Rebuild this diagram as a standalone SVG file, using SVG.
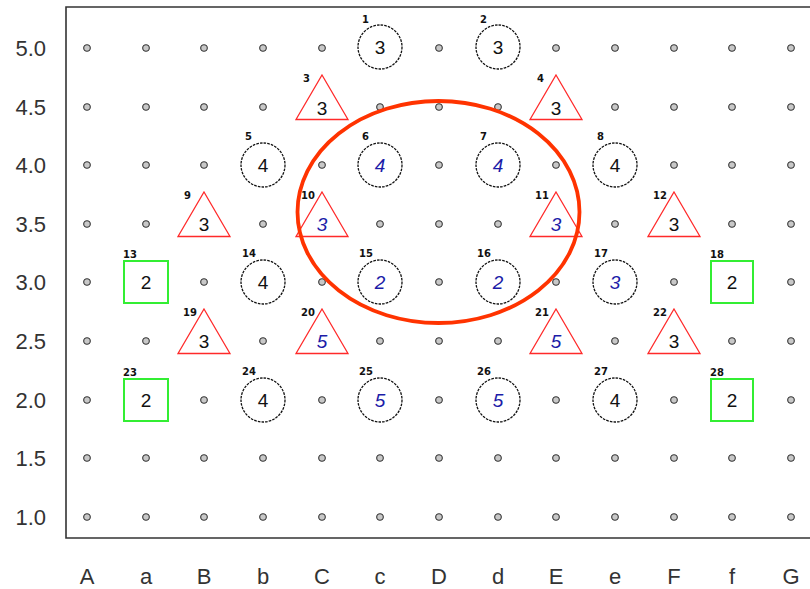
<svg xmlns="http://www.w3.org/2000/svg" xmlns:xlink="http://www.w3.org/1999/xlink" width="810" height="589" viewBox="0 0 810 589">
  <style>
    .axis { font-family: "Liberation Sans", Arial, sans-serif; font-size: 22px; fill: #333; }
    .ring { fill: #fff; stroke: #111; stroke-width: 1.3; stroke-dasharray: 2.6 1.1; }
    .tri { fill: #fff; stroke: #ff2a2a; stroke-width: 1.3; stroke-linejoin: miter; }
    .sq { fill: #fff; stroke: #33ee33; stroke-width: 2; }
    .v { font-family: "Liberation Sans", Arial, sans-serif; font-size: 19px; fill: #111; text-anchor: middle; }
    .vb { font-family: "Liberation Sans", Arial, sans-serif; font-size: 19px; fill: #1c1ca8; text-anchor: middle; font-style: italic; }
    .lbl { font-family: "DejaVu Sans", sans-serif; font-size: 10px; font-weight: bold; fill: #111; }
    .dot { fill: #c8c8c8; stroke: #333; stroke-width: 1.1; }
    .zone { fill: none; stroke: #ff3300; stroke-width: 3.8; }
  </style>
  <defs>
    <circle id="pt" class="dot" r="3.3"/>
    <polygon id="triShape" class="tri" points="0,-32 26,12.5 -26,12.5"/>
  </defs>

  <rect width="810" height="589" fill="#fff"/>

  <!-- plot frame -->
  <path d="M812,7 H66 V538 H812" fill="none" stroke="#333" stroke-width="1.6"/>

  <!-- axis labels -->
  <g id="y-axis" class="axis" text-anchor="end">
    <text x="46" y="56">5.0</text>
    <text x="46" y="115">4.5</text>
    <text x="46" y="173">4.0</text>
    <text x="46" y="232">3.5</text>
    <text x="46" y="290">3.0</text>
    <text x="46" y="349">2.5</text>
    <text x="46" y="408">2.0</text>
    <text x="46" y="466">1.5</text>
    <text x="46" y="525">1.0</text>
  </g>
  <g id="x-axis" class="axis" text-anchor="middle">
    <text x="87" y="584">A</text>
    <text x="146" y="584">a</text>
    <text x="204" y="584">B</text>
    <text x="263" y="584">b</text>
    <text x="322" y="584">C</text>
    <text x="380" y="584">c</text>
    <text x="439" y="584">D</text>
    <text x="498" y="584">d</text>
    <text x="556" y="584">E</text>
    <text x="615" y="584">e</text>
    <text x="674" y="584">F</text>
    <text x="732" y="584">f</text>
    <text x="791" y="584">G</text>
  </g>

  <!-- empty grid points -->
  <g id="grid-points">
    <!-- 5.0 -->
    <use xlink:href="#pt" x="87" y="48"/><use xlink:href="#pt" x="146" y="48"/><use xlink:href="#pt" x="204" y="48"/><use xlink:href="#pt" x="263" y="48"/><use xlink:href="#pt" x="322" y="48"/><use xlink:href="#pt" x="439" y="48"/><use xlink:href="#pt" x="556" y="48"/><use xlink:href="#pt" x="615" y="48"/><use xlink:href="#pt" x="674" y="48"/><use xlink:href="#pt" x="732" y="48"/><use xlink:href="#pt" x="791" y="48"/>
    <!-- 4.5 -->
    <use xlink:href="#pt" x="87" y="107"/><use xlink:href="#pt" x="146" y="107"/><use xlink:href="#pt" x="204" y="107"/><use xlink:href="#pt" x="263" y="107"/><use xlink:href="#pt" x="380" y="107"/><use xlink:href="#pt" x="439" y="107"/><use xlink:href="#pt" x="498" y="107"/><use xlink:href="#pt" x="615" y="107"/><use xlink:href="#pt" x="674" y="107"/><use xlink:href="#pt" x="732" y="107"/><use xlink:href="#pt" x="791" y="107"/>
    <!-- 4.0 -->
    <use xlink:href="#pt" x="87" y="165"/><use xlink:href="#pt" x="146" y="165"/><use xlink:href="#pt" x="204" y="165"/><use xlink:href="#pt" x="322" y="165"/><use xlink:href="#pt" x="439" y="165"/><use xlink:href="#pt" x="556" y="165"/><use xlink:href="#pt" x="674" y="165"/><use xlink:href="#pt" x="732" y="165"/><use xlink:href="#pt" x="791" y="165"/>
    <!-- 3.5 -->
    <use xlink:href="#pt" x="87" y="224"/><use xlink:href="#pt" x="146" y="224"/><use xlink:href="#pt" x="263" y="224"/><use xlink:href="#pt" x="380" y="224"/><use xlink:href="#pt" x="439" y="224"/><use xlink:href="#pt" x="498" y="224"/><use xlink:href="#pt" x="615" y="224"/><use xlink:href="#pt" x="732" y="224"/><use xlink:href="#pt" x="791" y="224"/>
    <!-- 3.0 -->
    <use xlink:href="#pt" x="87" y="282"/><use xlink:href="#pt" x="204" y="282"/><use xlink:href="#pt" x="322" y="282"/><use xlink:href="#pt" x="439" y="282"/><use xlink:href="#pt" x="556" y="282"/><use xlink:href="#pt" x="674" y="282"/><use xlink:href="#pt" x="791" y="282"/>
    <!-- 2.5 -->
    <use xlink:href="#pt" x="87" y="341"/><use xlink:href="#pt" x="146" y="341"/><use xlink:href="#pt" x="263" y="341"/><use xlink:href="#pt" x="380" y="341"/><use xlink:href="#pt" x="439" y="341"/><use xlink:href="#pt" x="498" y="341"/><use xlink:href="#pt" x="615" y="341"/><use xlink:href="#pt" x="732" y="341"/><use xlink:href="#pt" x="791" y="341"/>
    <!-- 2.0 -->
    <use xlink:href="#pt" x="87" y="400"/><use xlink:href="#pt" x="204" y="400"/><use xlink:href="#pt" x="322" y="400"/><use xlink:href="#pt" x="439" y="400"/><use xlink:href="#pt" x="556" y="400"/><use xlink:href="#pt" x="674" y="400"/><use xlink:href="#pt" x="791" y="400"/>
    <!-- 1.5 -->
    <use xlink:href="#pt" x="87" y="458"/><use xlink:href="#pt" x="146" y="458"/><use xlink:href="#pt" x="204" y="458"/><use xlink:href="#pt" x="263" y="458"/><use xlink:href="#pt" x="322" y="458"/><use xlink:href="#pt" x="380" y="458"/><use xlink:href="#pt" x="439" y="458"/><use xlink:href="#pt" x="498" y="458"/><use xlink:href="#pt" x="556" y="458"/><use xlink:href="#pt" x="615" y="458"/><use xlink:href="#pt" x="674" y="458"/><use xlink:href="#pt" x="732" y="458"/><use xlink:href="#pt" x="791" y="458"/>
    <!-- 1.0 -->
    <use xlink:href="#pt" x="87" y="517"/><use xlink:href="#pt" x="146" y="517"/><use xlink:href="#pt" x="204" y="517"/><use xlink:href="#pt" x="263" y="517"/><use xlink:href="#pt" x="322" y="517"/><use xlink:href="#pt" x="380" y="517"/><use xlink:href="#pt" x="439" y="517"/><use xlink:href="#pt" x="498" y="517"/><use xlink:href="#pt" x="556" y="517"/><use xlink:href="#pt" x="615" y="517"/><use xlink:href="#pt" x="674" y="517"/><use xlink:href="#pt" x="732" y="517"/><use xlink:href="#pt" x="791" y="517"/>
  </g>

  <!-- connectors (none between nodes) -->
  <g id="connectors"></g>

  <!-- nodes -->
  <g id="n1" transform="translate(380,47)"><circle class="ring" r="22"/><text class="v" y="7">3</text><text class="lbl" x="-18" y="-24">1</text></g>
  <g id="n2" transform="translate(498,47)"><circle class="ring" r="22"/><text class="v" y="7">3</text><text class="lbl" x="-18" y="-24">2</text></g>
  <g id="n3" transform="translate(322,107)"><use xlink:href="#triShape"/><text class="v" y="8">3</text><text class="lbl" x="-19" y="-25">3</text></g>
  <g id="n4" transform="translate(556,107)"><use xlink:href="#triShape"/><text class="v" y="8">3</text><text class="lbl" x="-19" y="-25">4</text></g>
  <g id="n5" transform="translate(263,165)"><circle class="ring" r="22"/><text class="v" y="7">4</text><text class="lbl" x="-18" y="-25">5</text></g>
  <g id="n6" transform="translate(380,165)"><circle class="ring" r="22"/><text class="vb" y="7">4</text><text class="lbl" x="-18" y="-25">6</text></g>
  <g id="n7" transform="translate(498,165)"><circle class="ring" r="22"/><text class="vb" y="7">4</text><text class="lbl" x="-18" y="-25">7</text></g>
  <g id="n8" transform="translate(615,165)"><circle class="ring" r="22"/><text class="v" y="7">4</text><text class="lbl" x="-18" y="-25">8</text></g>
  <g id="n9" transform="translate(204,224)"><use xlink:href="#triShape"/><text class="v" y="7">3</text><text class="lbl" x="-20" y="-25">9</text></g>
  <g id="n10" transform="translate(322,224)"><use xlink:href="#triShape"/><text class="vb" y="7">3</text><text class="lbl" x="-21" y="-25">10</text></g>
  <g id="n11" transform="translate(556,224)"><use xlink:href="#triShape"/><text class="vb" y="7">3</text><text class="lbl" x="-21" y="-25">11</text></g>
  <g id="n12" transform="translate(674,224)"><use xlink:href="#triShape"/><text class="v" y="7">3</text><text class="lbl" x="-21" y="-25">12</text></g>
  <g id="n13" transform="translate(146,282)"><rect class="sq" x="-22" y="-21" width="44" height="42"/><text class="v" y="7">2</text><text class="lbl" x="-23" y="-24">13</text></g>
  <g id="n14" transform="translate(263,282)"><circle class="ring" r="22"/><text class="v" y="7">4</text><text class="lbl" x="-21" y="-25">14</text></g>
  <g id="n15" transform="translate(380,282)"><circle class="ring" r="22"/><text class="vb" y="7">2</text><text class="lbl" x="-21" y="-25">15</text></g>
  <g id="n16" transform="translate(498,282)"><circle class="ring" r="22"/><text class="vb" y="7">2</text><text class="lbl" x="-21" y="-25">16</text></g>
  <g id="n17" transform="translate(615,282)"><circle class="ring" r="22"/><text class="vb" y="7">3</text><text class="lbl" x="-21" y="-25">17</text></g>
  <g id="n18" transform="translate(732,282)"><rect class="sq" x="-21" y="-21" width="42" height="42"/><text class="v" y="7">2</text><text class="lbl" x="-22" y="-24">18</text></g>
  <g id="n19" transform="translate(204,341)"><use xlink:href="#triShape"/><text class="v" y="7">3</text><text class="lbl" x="-21" y="-25">19</text></g>
  <g id="n20" transform="translate(322,341)"><use xlink:href="#triShape"/><text class="vb" y="7">5</text><text class="lbl" x="-21" y="-25">20</text></g>
  <g id="n21" transform="translate(556,341)"><use xlink:href="#triShape"/><text class="vb" y="7">5</text><text class="lbl" x="-21" y="-25">21</text></g>
  <g id="n22" transform="translate(674,341)"><use xlink:href="#triShape"/><text class="v" y="7">3</text><text class="lbl" x="-21" y="-25">22</text></g>
  <g id="n23" transform="translate(146,400)"><rect class="sq" x="-22" y="-21" width="44" height="42"/><text class="v" y="7">2</text><text class="lbl" x="-23" y="-24">23</text></g>
  <g id="n24" transform="translate(263,400)"><circle class="ring" r="22"/><text class="v" y="7">4</text><text class="lbl" x="-21" y="-25">24</text></g>
  <g id="n25" transform="translate(380,400)"><circle class="ring" r="22"/><text class="vb" y="7">5</text><text class="lbl" x="-21" y="-25">25</text></g>
  <g id="n26" transform="translate(498,400)"><circle class="ring" r="22"/><text class="vb" y="7">5</text><text class="lbl" x="-21" y="-25">26</text></g>
  <g id="n27" transform="translate(615,400)"><circle class="ring" r="22"/><text class="v" y="7">4</text><text class="lbl" x="-21" y="-25">27</text></g>
  <g id="n28" transform="translate(732,400)"><rect class="sq" x="-21" y="-21" width="42" height="42"/><text class="v" y="7">2</text><text class="lbl" x="-22" y="-24">28</text></g>

  <!-- highlighted region -->
  <g id="highlight">
    <ellipse class="zone" cx="438.5" cy="212" rx="141" ry="111"/>
  </g>
</svg>
